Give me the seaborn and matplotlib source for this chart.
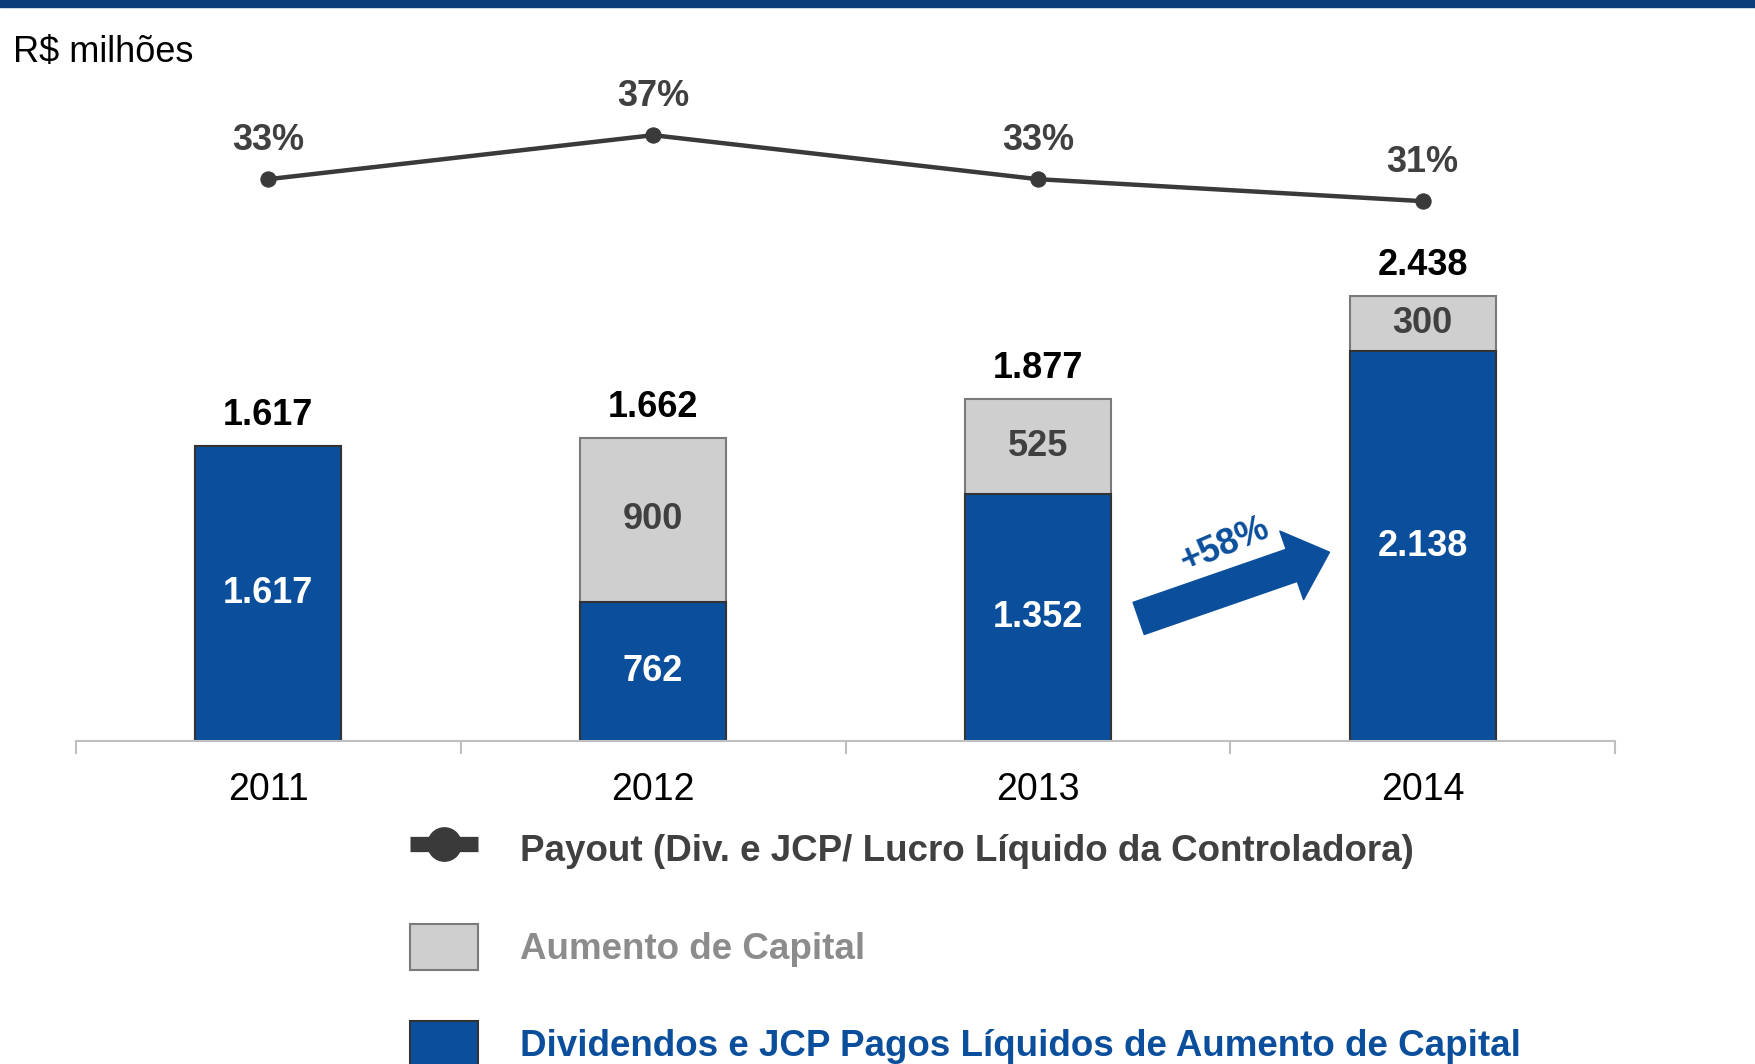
import matplotlib
matplotlib.use("Agg")
import matplotlib.pyplot as plt
import seaborn as sns
import pandas as pd
from matplotlib.patches import Patch, Rectangle
from matplotlib.lines import Line2D
from matplotlib.ticker import FixedLocator

# ---- data ----
years = ["2011", "2012", "2013", "2014"]
dividendos = [1617, 762, 1352, 2138]
aumento = [0, 900, 525, 300]
totais = [1617, 1662, 1877, 2438]
payout = [33, 37, 33, 31]
dividendos_labels = ["1.617", "762", "1.352", "2.138"]
aumento_labels = ["", "900", "525", "300"]
totais_labels = ["1.617", "1.662", "1.877", "2.438"]
payout_labels = ["33%", "37%", "33%", "31%"]

legend_labels = ["Payout (Div. e JCP/ Lucro Líquido da Controladora)",
                 "Aumento de Capital",
                 "Dividendos e JCP Pagos Líquidos de Aumento de Capital"]

BLUE = "#0B4F9C"
GRAY = "#CFCFCF"
DARK = "#404040"

sns.set_theme(style="white")
plt.rcParams["font.family"] = ["Liberation Sans", "DejaVu Sans"]

df = pd.DataFrame({"ano": years, "div": dividendos, "aum": aumento, "tot": totais})

fig = plt.figure(figsize=(17.55, 10.64), dpi=100)
fig.patch.set_facecolor("white")
ax = fig.add_axes([76/1755, 323/1064, 1539/1755, 641/1064])

# gray total bars first, blue on top
sns.barplot(data=df, x="ano", y="tot", color=GRAY, width=0.38, ax=ax,
            edgecolor="#7a7a7a", linewidth=1.5, saturation=1)
sns.barplot(data=df, x="ano", y="div", color=BLUE, width=0.38, ax=ax,
            edgecolor="#333333", linewidth=1.5, saturation=1)

ax.set_xlim(-0.5, len(years) - 0.5)
ax.set_ylim(0, 3514)
ax.set_xlabel("")
ax.set_ylabel("")
ax.set_yticks([])
for s in ["top", "right", "left"]:
    ax.spines[s].set_visible(False)
ax.spines["bottom"].set_color("#bfbfbf")
ax.spines["bottom"].set_linewidth(1.5)
ax.xaxis.set_minor_locator(FixedLocator([i - 0.5 for i in range(len(years) + 1)]))
ax.tick_params(axis="x", which="major", length=0, labelsize=27, colors="black", pad=22)
ax.tick_params(axis="x", which="minor", length=9, width=1.5, color="#bfbfbf",
               direction="out", bottom=True)

for i in range(len(years)):
    ax.annotate(dividendos_labels[i], (i, dividendos[i] / 2), ha="center", va="center",
                fontsize=26, fontweight="bold", color="white")
    if aumento[i] > 0:
        ax.annotate(aumento_labels[i], (i, dividendos[i] + aumento[i] / 2), ha="center",
                    va="center", fontsize=26, fontweight="bold", color=DARK)
    ax.annotate(totais_labels[i], (i, totais[i]), xytext=(0, 22), textcoords="offset points",
                ha="center", va="center", fontsize=26, fontweight="bold", color="black")

# growth arrow
ax.annotate("", xy=(2.758, 1035), xytext=(2.262, 672),
            arrowprops=dict(arrowstyle="simple,head_length=0.8,head_width=1.45,tail_width=0.68",
                            mutation_scale=36, color=BLUE, shrinkA=0, shrinkB=0))
ax.text(2.485, 1075, "+58%", rotation=23, ha="center", va="center",
        fontsize=26, fontweight="bold", color=BLUE, zorder=6)

# payout line
ax2 = ax.twinx()
sns.lineplot(x=list(range(len(years))), y=payout, ax=ax2, color="#3a3a3a",
             linewidth=3.2, marker="o", markersize=11, markeredgecolor="#3a3a3a")
ax2.set_ylim(-18.1, 40.2)
ax2.set_xlim(-0.5, len(years) - 0.5)
ax2.set_yticks([])
for s in ["top", "right", "left", "bottom"]:
    ax2.spines[s].set_visible(False)
for i in range(len(years)):
    ax2.annotate(payout_labels[i], (i, payout[i]), xytext=(0, 28), textcoords="offset points",
                 ha="center", va="center", fontsize=26, fontweight="bold", color=DARK)

# title
fig.text(13/1755, 1 - 52/1064, "R$ milhões", fontsize=26, color="black",
         ha="left", va="center")

# top band
fig.patches.append(Rectangle((0, 1 - 7/1064), 1, 7/1064, transform=fig.transFigure,
                             color="#0A3D7A", zorder=5))

# legend
handles = [Line2D([0], [0], color="#3a3a3a", linewidth=11, marker="o", markersize=24,
                  markerfacecolor="#3a3a3a", markeredgecolor="#3a3a3a",
                  solid_capstyle="butt"),
           Patch(facecolor=GRAY, edgecolor="#7a7a7a", linewidth=1.5),
           Patch(facecolor=BLUE, edgecolor="#333333", linewidth=1.5)]
leg = fig.legend(handles, legend_labels, loc="upper left",
                 bbox_to_anchor=(410/1755, 1 - 826/1064), bbox_transform=fig.transFigure,
                 frameon=False, fontsize=26.5, handlelength=1.85, handleheight=1.55,
                 labelspacing=1.4, handletextpad=1.15, borderpad=0, borderaxespad=0)
for t, c in zip(leg.get_texts(), [DARK, "#8c8c8c", BLUE]):
    t.set_color(c)
    t.set_fontweight("bold")

fig.savefig("out.png", dpi=100, facecolor="white")
